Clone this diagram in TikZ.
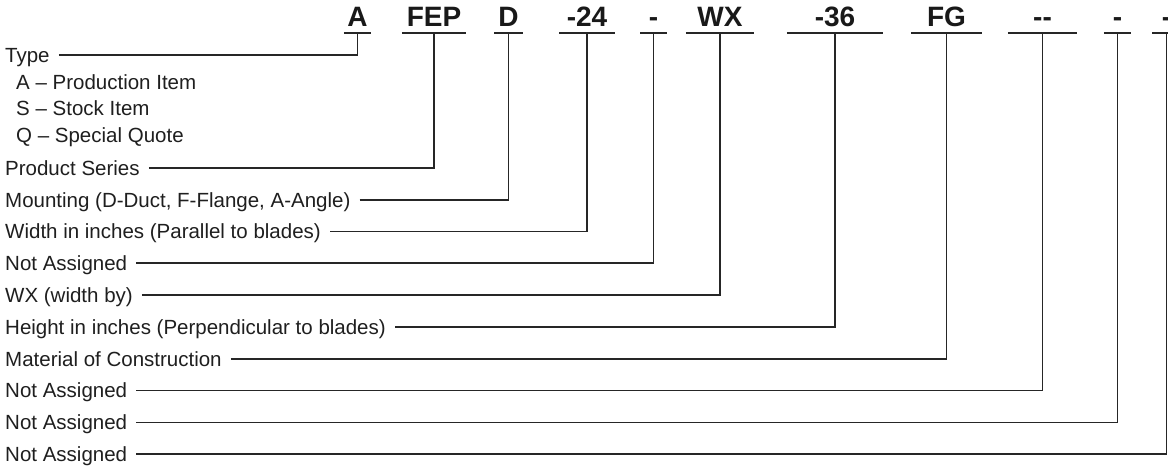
\documentclass[tikz,border=0pt]{standalone}
\usepackage{fontspec}
\setmainfont{Liberation Sans}
\begin{document}
\begin{tikzpicture}[x=1pt,y=-1pt,
  lbl/.style={anchor=west,inner sep=0pt,text height=14.7pt,text depth=0pt,
    font=\fontsize{20.5}{24}\selectfont,text=black!88},
  code/.style={anchor=south,inner xsep=0pt,inner ysep=0pt,text height=20pt,text depth=6pt,
    font=\fontsize{28}{32}\selectfont\bfseries,text=black!90},
  uline/.style={draw=black!85,line width=1.2pt},
  conn/.style={draw=black!85,line width=1.2pt}]
\useasboundingbox[fill=white] (0,0) rectangle (1168,467);
% header codes
\node[code,minimum width=27pt] (cA) at (357.5,33) {A};
\node[code,minimum width=64pt] (cFEP) at (434,33) {FEP};
\node[code,minimum width=28pt] (cD) at (508.5,33) {D};
\node[code,minimum width=55pt] (c24) at (587,33) {-24};
\node[code,minimum width=26pt] (cNA1) at (653.5,33) {-};
\node[code,minimum width=68pt] (cWX) at (720,33) {WX};
\node[code,minimum width=96pt] (c36) at (835,33) {-36};
\node[code,minimum width=70pt] (cFG) at (946.5,33) {FG};
\node[code,minimum width=69pt] (cNA2) at (1042.5,33) {-{}-};
\node[code,minimum width=27pt] (cNA3) at (1117.5,33) {-};
\node[code,minimum width=28pt] (cNA4) at (1166.5,33) {-};
\foreach \c in {cA,cFEP,cD,c24,cNA1,cWX,c36,cFG,cNA2,cNA3,cNA4}
  \draw[uline] (\c.south west) -- (\c.south east);
% labels
\node[lbl] (lType) at (5,55) {Type};
\node[lbl] (iA) at (16,82) {A -- Production Item};
\node[lbl] (iS) at (16,108.5) {S -- Stock Item};
\node[lbl] (iQ) at (16,135) {Q -- Special Quote};
\node[lbl] (lPS) at (5,168) {Product Series};
\node[lbl] (lMo) at (5,200) {Mounting (D-Duct, F-Flange, A-Angle)};
\node[lbl] (lWi) at (5,231.5) {Width in inches (Parallel to blades)};
\node[lbl] (lN1) at (5,263) {Not Assigned};
\node[lbl] (lWX) at (5,295) {WX (width by)};
\node[lbl] (lHe) at (5,327) {Height in inches (Perpendicular to blades)};
\node[lbl] (lMa) at (5,359) {Material of Construction};
\node[lbl] (lN2) at (5,390.5) {Not Assigned};
\node[lbl] (lN3) at (5,422.5) {Not Assigned};
\node[lbl] (lN4) at (5,454) {Not Assigned};
% connectors
\foreach \l/\c in {lType/cA,lPS/cFEP,lMo/cD,lWi/c24,lN1/cNA1,lWX/cWX,lHe/c36,lMa/cFG,lN2/cNA2,lN3/cNA3,lN4/cNA4}
  \draw[conn] ([xshift=9pt]\l.east) -| (\c.south);
\end{tikzpicture}
\end{document}
